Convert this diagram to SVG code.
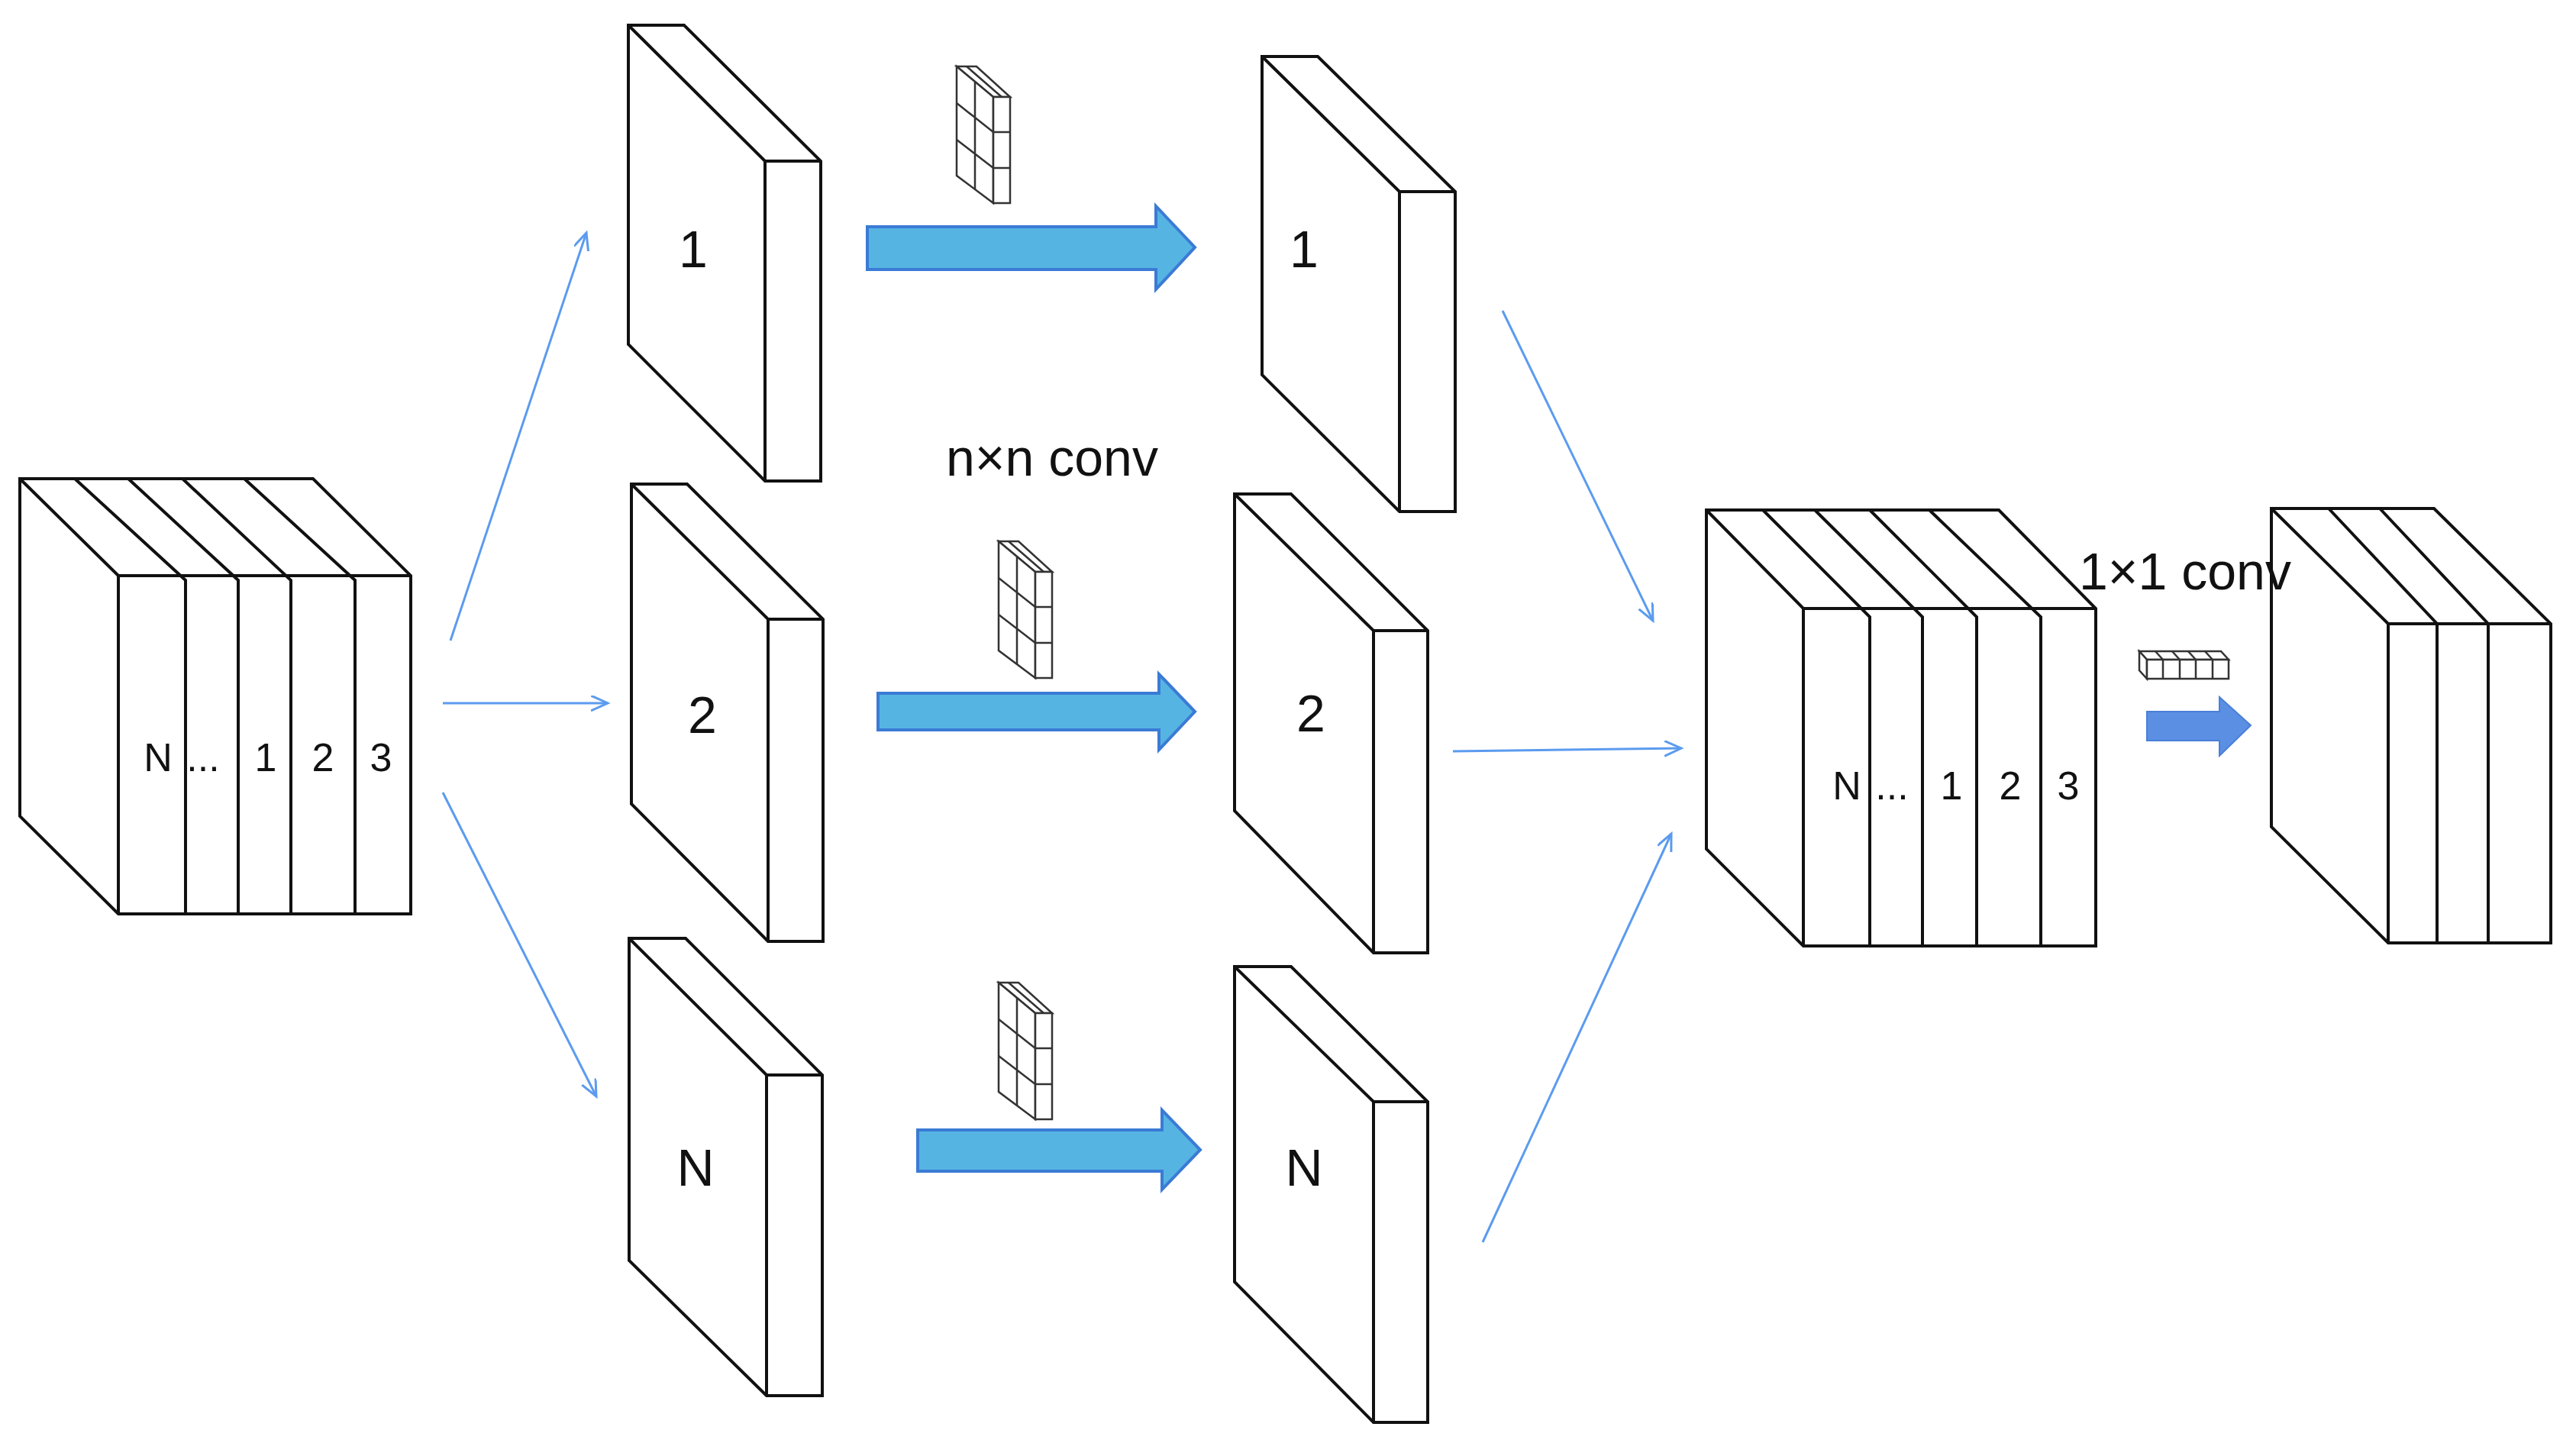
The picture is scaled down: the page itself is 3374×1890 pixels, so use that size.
<svg xmlns="http://www.w3.org/2000/svg" width="3374" height="1890" viewBox="0 0 3374 1890">
<style>
.s{fill:#fff;stroke:#111;stroke-width:4;stroke-linejoin:miter}
.l{fill:none;stroke:#111;stroke-width:4}
.t{font-family:"Liberation Sans",Arial,sans-serif;fill:#111;text-anchor:middle}
.c{stroke:#5b9bef;stroke-width:3;fill:none;marker-end:url(#ah)}
.big{fill:#56b4e3;stroke:#3a7bd5;stroke-width:4}
.k{fill:#fff;stroke:#333;stroke-width:2.5}
</style>
<defs>
<marker id="ah" markerWidth="30" markerHeight="30" refX="22" refY="10" orient="auto" markerUnits="userSpaceOnUse"><path d="M0,0 L22,10 L0,20" fill="none" stroke="#5b9bef" stroke-width="3"/></marker>
<g id="kern">
<polygon class="k" points="1253,87 1279,87 1323,127 1301,127"/>
<polygon class="k" points="1253,87 1301,127 1301,266 1253,230"/>
<rect class="k" x="1301" y="127" width="22" height="139"/>
<path class="k" d="M1277,107 V248 M1253,135 L1301,173 M1253,183 L1301,220 M1301,173 H1323 M1301,220 H1323 M1266,87 L1312,127"/>
</g>
</defs>

<g id="input-cube">
<polygon class="s" points="26,627 410,627 538,754 538,1197 155,1197 26,1069"/>
<path class="l" d="M26,627 L155,754 H538 M155,754 V1197 M98,627 L243,760 V1197 M168,627 L312,760 V1197 M239,627 L381,760 V1197 M320,627 L465,760 V1197"/>
<g class="t" font-size="52"><text x="207" y="1010">N</text><text x="266" y="1010">...</text><text x="348" y="1010">1</text><text x="423" y="1010">2</text><text x="499" y="1010">3</text></g>
</g>

<g id="slab-in-1">
<polygon class="s" points="823,33 896,33 1075,211 1075,630 1002,630 823,451"/>
<path class="l" d="M823,33 L1002,211 H1075 M1002,211 V630"/>
<text class="t" x="908" y="350" font-size="68">1</text>
</g>
<g id="slab-in-2" transform="translate(-4,0)">
<polygon class="s" points="831,634 904,634 1082,811 1082,1233 1010,1233 831,1053"/>
<path class="l" d="M831,634 L1010,811 H1082 M1010,811 V1233"/>
<text class="t" x="924" y="960" font-size="68">2</text>
</g>
<g id="slab-in-N" transform="translate(-2,-4)">
<polygon class="s" points="826,1233 900,1233 1079,1412 1079,1832 1006,1832 826,1655"/>
<path class="l" d="M826,1233 L1006,1412 H1079 M1006,1412 V1832"/>
<text class="t" x="913" y="1557" font-size="68">N</text>
</g>

<g id="slab-out-1">
<polygon class="s" points="1653,74 1726,74 1906,251 1906,670 1833,670 1653,491"/>
<path class="l" d="M1653,74 L1833,251 H1906 M1833,251 V670"/>
<text class="t" x="1708" y="350" font-size="68">1</text>
</g>
<g id="slab-out-2" transform="translate(-7,-2)">
<polygon class="s" points="1624,649 1698,649 1877,828 1877,1250 1806,1250 1624,1064"/>
<path class="l" d="M1624,649 L1806,828 H1877 M1806,828 V1250"/>
<text class="t" x="1724" y="960" font-size="68">2</text>
</g>
<g id="slab-out-N" transform="translate(-7,-4)">
<polygon class="s" points="1624,1270 1698,1270 1877,1447 1877,1867 1806,1867 1624,1683"/>
<path class="l" d="M1624,1270 L1806,1447 H1877 M1806,1447 V1867"/>
<text class="t" x="1715" y="1557" font-size="68">N</text>
</g>

<g id="concat-cube">
<polygon class="s" points="2235,668 2618,668 2745,797 2745,1239 2362,1239 2235,1112"/>
<path class="l" d="M2235,668 L2362,797 H2745 M2362,797 V1239 M2309,668 L2449,808 V1239 M2377,668 L2518,808 V1239 M2449,668 L2589,808 V1239 M2527,668 L2673,808 V1239"/>
<g class="t" font-size="52"><text x="2419" y="1047">N</text><text x="2478" y="1047">...</text><text x="2556" y="1047">1</text><text x="2633" y="1047">2</text><text x="2709" y="1047">3</text></g>
</g>

<g id="output-cube">
<polygon class="s" points="2975,666 3188,666 3341,817 3341,1235 3128,1235 2975,1083"/>
<path class="l" d="M2975,666 L3128,817 H3341 M3128,817 V1235 M3050,666 L3192,817 V1235 M3117,666 L3259,817 V1235"/>
</g>

<g id="kernels">
<use href="#kern"/>
<use href="#kern" transform="translate(55,622)"/>
<use href="#kern" transform="translate(55,1200)"/>
<g id="kernel-1x1">
<polygon class="k" points="2802,853 2909,853 2919,864 2812,864"/>
<polygon class="k" points="2802,853 2812,864 2812,889 2802,878"/>
<rect class="k" x="2812" y="864" width="107" height="25"/>
<path class="k" d="M2833,864 V889 M2855,864 V889 M2876,864 V889 M2898,864 V889 M2823,853 L2833,864 M2845,853 L2855,864 M2866,853 L2876,864 M2888,853 L2898,864"/>
</g>
</g>

<g id="labels">
<text class="t" x="1378" y="623" font-size="68">n×n conv</text>
<text class="t" x="2862" y="772" font-size="68">1×1 conv</text>
</g>

<g id="connectors">
<polygon class="big" points="1136,297 1514,297 1514,270 1565,324 1514,379 1514,353 1136,353"/>
<polygon class="big" points="1150,908 1518,908 1518,883 1565,932 1518,982 1518,956 1150,956"/>
<polygon class="big" points="1202,1480 1522,1480 1522,1454 1572,1506 1522,1558 1522,1534 1202,1534"/>
<polygon fill="#5a8fe3" stroke="#4a7fd8" stroke-width="2" points="2812,932 2907,932 2907,913 2948,950 2907,990 2907,970 2812,970"/>
<line class="c" x1="590" y1="839" x2="768" y2="305"/>
<line class="c" x1="580" y1="921" x2="796" y2="921"/>
<line class="c" x1="580" y1="1038" x2="781" y2="1436"/>
<line class="c" x1="1968" y1="407" x2="2165" y2="813"/>
<line class="c" x1="1903" y1="984" x2="2202" y2="980"/>
<line class="c" x1="1942" y1="1627" x2="2189" y2="1092"/>
</g>
</svg>
